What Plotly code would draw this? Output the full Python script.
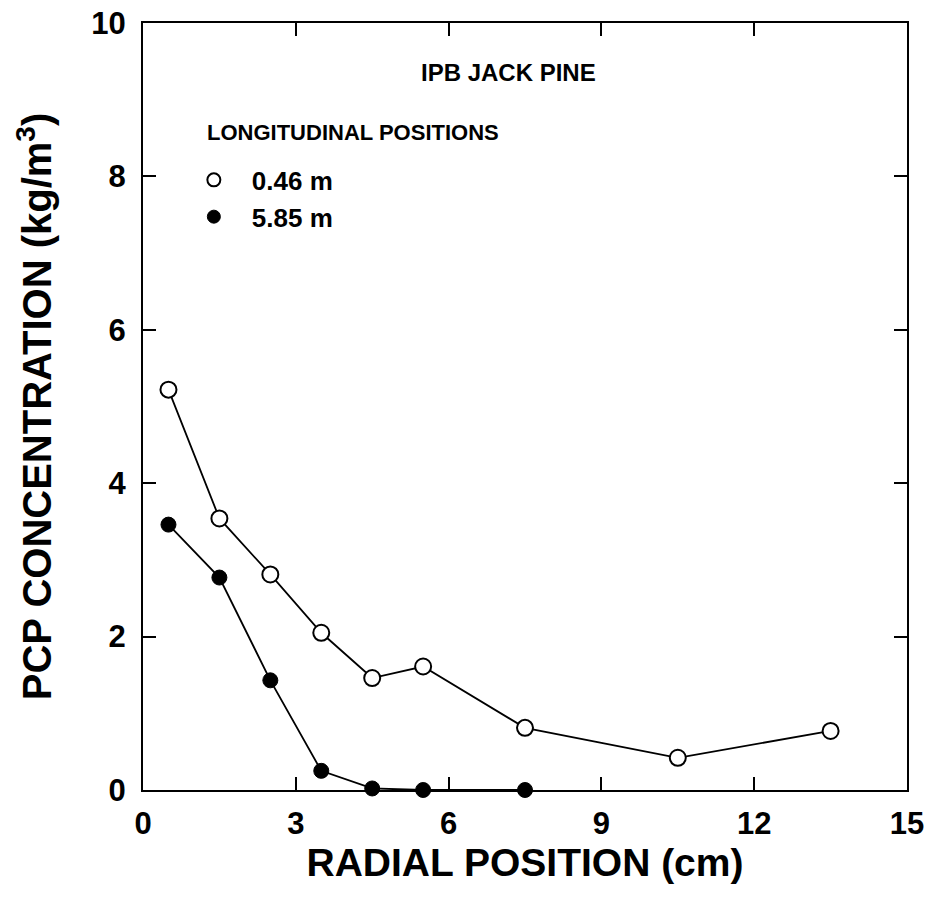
import plotly.graph_objects as go

radial_046 = [0.5, 1.5, 2.5, 3.5, 4.5, 5.5, 7.5, 10.5, 13.5]
pcp_046 = [5.22, 3.54, 2.81, 2.05, 1.46, 1.61, 0.81, 0.42, 0.77]
radial_585 = [0.5, 1.5, 2.5, 3.5, 4.5, 5.5, 7.5]
pcp_585 = [3.46, 2.77, 1.43, 0.25, 0.02, 0.0, 0.0]

x_ticks = [0, 3, 6, 9, 12, 15]
y_ticks = [0, 2, 4, 6, 8, 10]

FONT = "Liberation Sans, Arial, Helvetica, sans-serif"

fig = go.Figure()
fig.add_trace(go.Scatter(
    x=radial_046, y=pcp_046, mode="lines+markers", name="0.46 m", showlegend=False,
    line=dict(color="black", width=1.8),
    marker=dict(symbol="circle", size=16, color="white", line=dict(color="black", width=2)),
    cliponaxis=False))
fig.add_trace(go.Scatter(
    x=radial_585, y=pcp_585, mode="lines+markers", name="5.85 m", showlegend=False,
    line=dict(color="black", width=1.8),
    marker=dict(symbol="circle", size=15, color="black", line=dict(color="black", width=1)),
    cliponaxis=False))
# legend-only entries (markers only)
fig.add_trace(go.Scatter(
    x=[None], y=[None], mode="markers", name="0.46 m",
    marker=dict(symbol="circle", size=13, color="white", line=dict(color="black", width=2))))
fig.add_trace(go.Scatter(
    x=[None], y=[None], mode="markers", name="5.85 m",
    marker=dict(symbol="circle", size=13, color="black", line=dict(color="black", width=1))))

axis_common = dict(
    showline=True, linecolor="black", linewidth=2, mirror="ticks",
    ticks="inside", ticklen=13, tickwidth=1.5, tickcolor="black",
    showgrid=False, zeroline=False,
    tickfont=dict(family=FONT, size=31, color="black", weight="bold"),
)

fig.update_xaxes(
    range=[0, 15], tickvals=x_ticks, ticktext=[str(v) for v in x_ticks],
    automargin="bottom", ticklabelstandoff=5,
    title=dict(text="RADIAL POSITION (cm)", standoff=3,
               font=dict(family=FONT, size=39, color="black", weight="bold")),
    **axis_common)
fig.update_yaxes(
    range=[0, 10], tickvals=y_ticks, ticktext=[str(v) for v in y_ticks],
    automargin="left", ticklabelstandoff=9,
    title=dict(text="PCP CONCENTRATION (kg/m<sup>3</sup>)", standoff=27,
               font=dict(family=FONT, size=40, color="black", weight="bold")),
    **axis_common)

fig.add_annotation(
    text="IPB JACK PINE", xref="paper", yref="paper", x=0.478, y=0.936,
    xanchor="center", yanchor="middle", showarrow=False,
    font=dict(family=FONT, size=24, color="black", weight="bold"))
fig.add_annotation(
    text="LONGITUDINAL POSITIONS", xref="paper", yref="paper", x=0.081, y=0.857,
    xanchor="left", yanchor="middle", showarrow=False,
    font=dict(family=FONT, size=22, color="black", weight="bold"))

fig.update_layout(
    width=933, height=898,
    margin=dict(l=143, r=26, t=23, b=108),
    plot_bgcolor="white", paper_bgcolor="white",
    showlegend=True,
    legend=dict(
        x=0.043, y=0.826, xanchor="left", yanchor="top",
        bgcolor="rgba(0,0,0,0)", borderwidth=0,
        font=dict(family=FONT, size=26, color="black", weight="bold"),
        itemsizing="trace", tracegroupgap=0, itemwidth=66,
    ),
)

fig.write_html("out.html")
